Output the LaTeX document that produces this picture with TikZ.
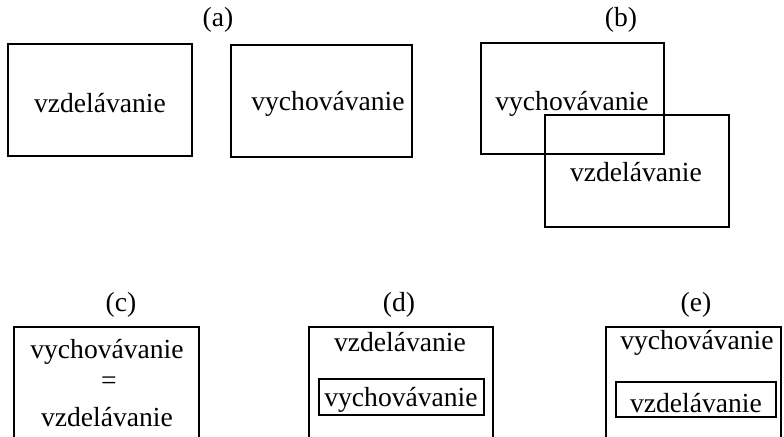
\documentclass[tikz,border=0pt]{standalone}
\usepackage{fontspec}
\setmainfont{Liberation Serif}
\usetikzlibrary{positioning}
\begin{document}
\begin{tikzpicture}[x=0.5pt,y=-0.5pt,line width=0.6pt,
	every node/.style={inner sep=0pt,font=\fontsize{13.8}{16}\selectfont}]
	\useasboundingbox (0,0) rectangle (784,437);
	% (a)
	\node (capa) at (218,20) {(a)};
	\draw (8,44) rectangle (192,156);
	\draw (231,45) rectangle (412,157);
	\node (avzd) at (100,103) {vzdelávanie};
	\node (avych) at (328,104) {vychovávanie};
	% (b)
	\node (capb) at (621,20) {(b)};
	\draw (481,43) rectangle (664,154);
	\draw (545,115) rectangle (729,227);
	\node (bvych) at (572,104) {vychovávanie};
	\node (bvzd) at (636,172) {vzdelávanie};
	% (c)
	\node (capc) at (121,305) {(c)};
	\draw (14,440) -- (14,327) -- (199,327) -- (199,440);
	\node (cvych) at (107,352) {vychovávanie};
	\node (ceq) at (109,383) {=};
	\node (cvzd) at (107,417) {vzdelávanie};
	% (d)
	\node (capd) at (399,305) {(d)};
	\draw (309,440) -- (309,327) -- (493,327) -- (493,440);
	\node (dvzd) at (400,342) {vzdelávanie};
	\draw (319,379) rectangle (484,415);
	\node (dvych) at (401,400) {vychovávanie};
	% (e)
	\node (cape) at (696,305) {(e)};
	\draw (606,440) -- (606,327) -- (781,327) -- (781,440);
	\node (evych) at (697,343) {vychovávanie};
	\draw (616,382) rectangle (776,417);
	\node (evzd) at (696,403) {vzdelávanie};
\end{tikzpicture}
\end{document}
